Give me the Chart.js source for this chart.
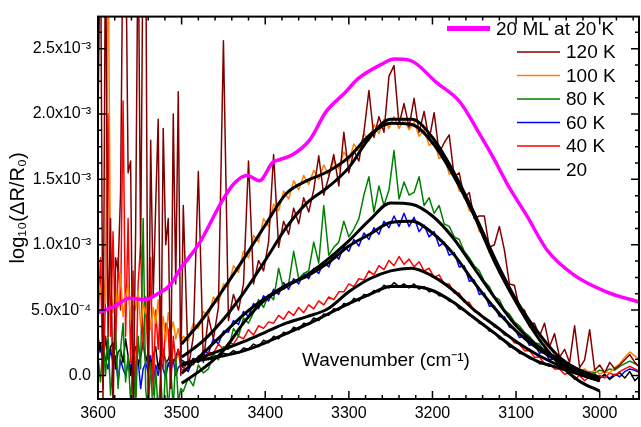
<!DOCTYPE html>
<html>
<head>
<meta charset="utf-8">
<script src="https://cdn.jsdelivr.net/npm/chart.js@4.4.0/dist/chart.umd.min.js"></script>
<style>
  html, body { margin: 0; padding: 0; background: #fff; }
</style>
</head>
<body>
<canvas id="chart" width="641" height="427"></canvas>
<script>
// all spectra values are in units of 1e-3
const unit = 1e-3;

// sampling of the measured spectra: 3600 -> 3501 every 3 cm-1, then 3498 -> 2952 every 6 cm-1
const wn = [];
for (let w = 3600; w > 3500; w -= 3) wn.push(w);
for (let w = 3498; w >= 2952; w -= 6) wn.push(w);

const k120 = [
  1.96, 3.5, -0.2, 3.5, 0.3, 1.2, -0.3, 0.9, 0.8, 1.4, 3.5, 3.5,
  1.55, 1.64, -0.3, 1.1, 3.5, 0.9, 3.5, 3.5, -0.35, 1.80, 0.6, 1.3,
  1.96, -0.2, 1.89, 1.0, 1.2, -0.1, 2.0, 0.7, 2.17, 0.0,
  1.3, 0.05, 0.3, 1.56, 0.1, 0.45, 0.28, 0.52, 2.56, 0.42, 0.62, 0.50,
  0.70, 1.64, 0.70, 0.88, 0.80, 1.02, 1.69, 0.98, 1.18, 1.08, 1.28, 1.16,
  1.36, 1.25, 1.42, 1.68, 1.38, 1.52, 1.69, 1.45, 1.86, 1.55, 1.72, 1.64,
  1.86, 2.18, 1.82, 1.98, 1.86, 2.29, 2.37, 1.92, 2.08, 1.90, 2.12, 1.86,
  2.02, 1.80, 2.01, 1.70, 1.78, 1.84, 1.52, 1.55, 1.36, 1.40, 1.20, 1.22,
  1.22, 0.98, 1.00, 1.14, 0.96, 0.70, 0.69, 0.51, 0.50, 0.40, 0.40, 0.30,
  0.40, 0.22, 0.32, 0.14, 0.20, 0.10, 0.38, 0.06, 0.12, 0.35, 0.04, 0.08,
  0.02, 0.10, 0.05, 0.08, 0.12, 0.16, 0.10, 0.06
];
const k100 = [
  0.75, 0.62, 0.80, 0.55, 3.5, 0.70, 0.48, 0.66, 0.52, 0.78, 0.45, 0.60,
  0.70, 0.42, 0.58, 0.50, 0.65, 0.38, 0.55, 0.47, 0.60, 0.35, 0.52, 0.40,
  0.58, 0.30, 0.45, 0.26, 0.48, 0.33, 0.41, 0.28, 0.36, 0.25,
  0.30, 0.27, 0.40, 0.36, 0.49, 0.45, 0.60, 0.55, 0.70, 0.68, 0.84, 0.79,
  0.95, 0.90, 1.07, 1.02, 1.20, 1.14, 1.31, 1.26, 1.41, 1.35, 1.49, 1.42,
  1.53, 1.46, 1.57, 1.50, 1.61, 1.53, 1.65, 1.58, 1.71, 1.64, 1.77, 1.71,
  1.85, 1.79, 1.92, 1.85, 1.96, 1.89, 1.98, 1.89, 1.96, 1.88, 1.94, 1.83,
  1.88, 1.76, 1.79, 1.66, 1.68, 1.54, 1.55, 1.41, 1.40, 1.26, 1.25, 1.10,
  1.08, 0.94, 0.90, 0.78, 0.75, 0.64, 0.60, 0.50, 0.47, 0.37, 0.35, 0.26,
  0.24, 0.17, 0.14, 0.10, 0.07, 0.05, 0.06, 0.03, 0.05, 0.02, 0.04, 0.01,
  0.03, 0.02, 0.06, 0.09, 0.14, 0.18, 0.15, 0.12
];
const k80 = [
  0.15, -0.05, 0.25, 0.0, 0.30, -0.15, 0.10, 0.35, -0.10, 0.20, 0.40, -0.05,
  0.15, -0.20, 0.10, -0.25, 0.30, 0.05, 1.20, -0.10, -0.30, 0.10, -0.35, 0.05,
  -0.28, 0.0, -0.35, 0.12, -0.30, 0.05, -0.25, 0.15, -0.20, -0.10,
  -0.12, -0.02, -0.08, 0.08, 0.02, 0.05, 0.16, 0.12, 0.22, 0.20, 0.36, 0.30,
  0.44, 0.40, 0.48, 0.58, 0.52, 0.62, 0.58, 0.82, 0.66, 0.70, 0.95, 0.74,
  0.78, 0.80, 1.02, 0.86, 1.30, 0.92, 0.98, 1.02, 1.18, 1.06, 1.12, 1.20,
  1.38, 1.52, 1.25, 1.45, 1.30, 1.42, 1.72, 1.35, 1.48, 1.38, 1.40, 1.52,
  1.30, 1.36, 1.24, 1.30, 1.16, 1.14, 1.06, 1.04, 0.95, 0.90, 0.84, 0.80,
  0.72, 0.68, 0.60, 0.58, 0.50, 0.47, 0.41, 0.38, 0.33, 0.30, 0.25, 0.24,
  0.18, 0.18, 0.13, 0.12, 0.07, 0.08, 0.04, 0.05, 0.01, 0.03, 0.02, 0.04,
  0.03, 0.05, 0.04, 0.07, 0.09, 0.11, 0.09, 0.07
];
const k60 = [
  0.30, 0.18, 0.25, 0.12, 0.05, 0.20, 0.10, 0.15, -0.05, 0.12, 0.05, 0.0,
  0.10, 0.08, -0.08, 0.06, 0.12, -0.10, 0.05, 0.10, 0.02, 0.15, -0.05, 0.08,
  0.0, 0.12, 0.05, -0.02, 0.10, 0.03, 0.12, 0.0, 0.06, 0.08,
  0.06, 0.03, 0.13, 0.10, 0.19, 0.17, 0.28, 0.24, 0.34, 0.33, 0.42, 0.39,
  0.49, 0.45, 0.55, 0.51, 0.61, 0.57, 0.66, 0.62, 0.71, 0.66, 0.74, 0.70,
  0.78, 0.74, 0.82, 0.78, 0.87, 0.83, 0.93, 0.89, 0.99, 0.95, 1.04, 0.99,
  1.09, 1.04, 1.13, 1.08, 1.18, 1.13, 1.22, 1.14, 1.24, 1.14, 1.21, 1.10,
  1.15, 1.06, 1.10, 0.99, 1.02, 0.92, 0.94, 0.83, 0.84, 0.72, 0.73, 0.62,
  0.63, 0.53, 0.53, 0.45, 0.45, 0.37, 0.36, 0.29, 0.30, 0.23, 0.24, 0.17,
  0.18, 0.12, 0.13, 0.08, 0.09, 0.04, 0.05, 0.01, 0.03, -0.01, 0.01, -0.02,
  0.0, -0.02, 0.01, -0.01, 0.03, 0.05, 0.04, 0.02
];
const k40 = [
  0.4, 0.9, -0.1, 0.6, 2.0, 0.3, 1.1, 0.2, 0.9, 0.5, 2.1, 0.3,
  1.2, 0.1, 0.8, -0.2, 0.7, 1.0, 0.2, 0.6, 0.1, 0.9, -0.15, 0.5,
  0.2, 0.6, 0.05, 0.4, 0.35, -0.1, 0.3, 0.1, 0.2, 0.05,
  0.04, 0.12, 0.08, 0.15, 0.12, 0.18, 0.17, 0.24, 0.20, 0.25, 0.24, 0.30,
  0.28, 0.35, 0.31, 0.38, 0.36, 0.41, 0.40, 0.46, 0.43, 0.49, 0.46, 0.52,
  0.48, 0.54, 0.51, 0.57, 0.54, 0.60, 0.58, 0.64, 0.64, 0.70, 0.68, 0.74,
  0.73, 0.80, 0.77, 0.84, 0.81, 0.88, 0.84, 0.91, 0.85, 0.89, 0.83, 0.87,
  0.80, 0.82, 0.75, 0.77, 0.70, 0.70, 0.63, 0.63, 0.56, 0.56, 0.49, 0.48,
  0.43, 0.42, 0.37, 0.36, 0.31, 0.30, 0.25, 0.24, 0.19, 0.19, 0.14, 0.14,
  0.09, 0.09, 0.05, 0.05, 0.01, 0.02, -0.03, 0.0, -0.04, -0.01, -0.03, 0.0,
  -0.02, 0.02, 0.0, 0.03, 0.05, 0.07, 0.05, 0.03
];
const k20 = [
  0.15, 0.25, 0.08, 0.30, 0.12, 0.22, 0.25, 0.05, 0.18, 0.20, 0.10, 0.28,
  0.15, 0.0, 0.18, 0.22, 0.08, 0.14, 0.26, 0.10, 0.18, 0.08, 0.15, 0.22,
  0.05, 0.15, 0.20, 0.10, 0.12, 0.18, 0.10, 0.14, 0.20, 0.12,
  0.11, 0.08, 0.13, 0.10, 0.15, 0.12, 0.16, 0.14, 0.17, 0.16, 0.19, 0.17,
  0.21, 0.20, 0.24, 0.22, 0.27, 0.25, 0.30, 0.28, 0.33, 0.32, 0.37, 0.35,
  0.40, 0.39, 0.44, 0.42, 0.47, 0.46, 0.51, 0.50, 0.55, 0.54, 0.59, 0.57,
  0.62, 0.61, 0.65, 0.64, 0.69, 0.67, 0.71, 0.68, 0.70, 0.67, 0.70, 0.66,
  0.68, 0.64, 0.65, 0.61, 0.61, 0.57, 0.56, 0.51, 0.50, 0.46, 0.45, 0.40,
  0.39, 0.34, 0.33, 0.28, 0.27, 0.22, 0.21, 0.17, 0.16, 0.13, 0.12, 0.09,
  0.09, 0.07, 0.07, 0.05, 0.05, 0.03, 0.03, 0.01, 0.02, -0.01, 0.01, -0.02,
  0.01, -0.03, 0.0, 0.02, -0.02, 0.03, -0.04, 0.0
];

// fitted curves, 3500 -> 3000 cm-1 every 25 cm-1
const fitWn = [3500, 3475, 3450, 3425, 3400, 3375, 3350, 3325, 3300, 3275, 3250,
               3225, 3200, 3175, 3150, 3125, 3100, 3075, 3050, 3025, 3000];
const fit120 = [0.14, 0.26, 0.43, 0.64, 0.88, 1.13, 1.32, 1.44, 1.59, 1.82, 1.96, 1.96, 1.82, 1.56, 1.24, 0.89, 0.58, 0.34, 0.15, 0.04, -0.04];
const fit100 = [0.24, 0.43, 0.66, 0.90, 1.15, 1.39, 1.49, 1.56, 1.67, 1.84, 1.93, 1.92, 1.78, 1.53, 1.22, 0.86, 0.56, 0.30, 0.10, -0.04, -0.12];
const fit80  = [-0.06, 0.05, 0.19, 0.41, 0.58, 0.68, 0.77, 0.89, 1.03, 1.19, 1.32, 1.31, 1.22, 1.05, 0.82, 0.59, 0.38, 0.23, 0.13, 0.045, -0.015];
const fit60  = [0.015, 0.165, 0.32, 0.47, 0.59, 0.69, 0.76, 0.86, 0.99, 1.08, 1.17, 1.18, 1.09, 0.93, 0.71, 0.51, 0.34, 0.21, 0.11, 0.02, -0.02];
const fit40  = [0.075, 0.14, 0.20, 0.26, 0.33, 0.40, 0.45, 0.51, 0.64, 0.74, 0.80, 0.82, 0.76, 0.65, 0.50, 0.38, 0.26, 0.16, 0.08, 0.01, -0.04];
const fit20  = [0.09, 0.12, 0.15, 0.19, 0.25, 0.32, 0.39, 0.47, 0.55, 0.62, 0.68, 0.68, 0.65, 0.56, 0.44, 0.32, 0.20, 0.11, 0.06, 0.01, -0.04];

// 20 ML at 20 K reference film
const mlWn  = [3600, 3580, 3562, 3544, 3530, 3514, 3502, 3478, 3452, 3437, 3422, 3407, 3391, 3383, 3367, 3347,
               3327, 3305, 3289, 3261, 3246, 3227, 3195, 3167, 3143, 3125, 3111, 3087, 3063, 3031, 2992, 2952];
const mlVal = [0.48, 0.53, 0.59, 0.58, 0.62, 0.69, 0.81, 1.02, 1.33, 1.47, 1.53, 1.49, 1.63, 1.65, 1.69, 1.80,
               2.02, 2.16, 2.27, 2.38, 2.42, 2.41, 2.24, 2.09, 1.84, 1.64, 1.47, 1.22, 0.96, 0.77, 0.64, 0.56];

const xTicks = [3600, 3500, 3400, 3300, 3200, 3100, 3000];

const font = "'Liberation Sans', Arial, sans-serif";
Chart.defaults.font.family = font;
Chart.defaults.color = '#000';

function pts(xs, ys) {
  return ys.map((v, i) => ({ x: xs[i], y: v * unit }));
}

function spectrum(label, vals, color, order) {
  return { label, data: pts(wn, vals), borderColor: color, borderWidth: 1.5, order, inLegend: true };
}
function fit(vals) {
  return { label: 'fit', data: pts(fitWn, vals), borderColor: '#000', borderWidth: 3,
           cubicInterpolationMode: 'monotone', order: 1, inLegend: false };
}

const supMap = { '-': '\u207B', '0': '\u2070', '1': '\u00B9', '2': '\u00B2', '3': '\u00B3', '4': '\u2074',
                 '5': '\u2075', '6': '\u2076', '7': '\u2077', '8': '\u2078', '9': '\u2079' };
function sciLabel(v) {
  if (Math.abs(v) < 1e-12) return '0.0';
  const e = Math.floor(Math.log10(Math.abs(v)) + 1e-9);
  const m = v / Math.pow(10, e);
  return m.toFixed(1) + 'x10' + String(e).split('').map(c => supMap[c]).join('');
}

// closed frame with inward ticks on all four sides
const frameTicks = {
  id: 'frameTicks',
  afterDraw(chart) {
    const { ctx, chartArea: a, scales: { x, y } } = chart;
    ctx.save();
    ctx.strokeStyle = '#000';
    ctx.lineWidth = 1.5;
    ctx.beginPath();
    for (let w = 3600; w > 2940; w -= 20) {
      const px = x.getPixelForValue(w);
      if (px > a.right - 1) continue;
      const len = w % 100 === 0 ? 8 : 4;
      ctx.moveTo(px, a.bottom); ctx.lineTo(px, a.bottom - len);
      ctx.moveTo(px, a.top); ctx.lineTo(px, a.top + len);
    }
    for (let k = -1; k <= 22; k++) {
      const v = k * 0.000125;
      const py = y.getPixelForValue(v);
      if (py < a.top + 1 || py > a.bottom - 1) continue;
      const len = k % 4 === 0 ? 8 : 4;
      ctx.moveTo(a.left, py); ctx.lineTo(a.left + len, py);
      ctx.moveTo(a.right, py); ctx.lineTo(a.right - len, py);
    }
    ctx.stroke();
    ctx.lineWidth = 2;
    ctx.strokeRect(a.left, a.top, a.right - a.left, a.bottom - a.top);
    ctx.restore();
  }
};

// axis title placed inside the plot, and the legend at top right
const innerText = {
  id: 'innerText',
  afterDraw(chart) {
    const { ctx, chartArea: a } = chart;
    ctx.save();
    ctx.fillStyle = '#000';
    ctx.font = '19px ' + font;
    ctx.textBaseline = 'middle';
    ctx.textAlign = 'center';
    ctx.fillText('Wavenumber (cm\u207B\u00B9)', a.left + 288, a.bottom - 38);

    ctx.textAlign = 'left';
    const items = chart.data.datasets.filter(d => d.inLegend);
    items.forEach((d, i) => {
      const yy = a.top + 12 + i * 23.5;
      const x0 = i === 0 ? a.right - 192 : a.right - 122;
      const x1 = i === 0 ? a.right - 149 : a.right - 79;
      ctx.strokeStyle = d.borderColor;
      ctx.lineWidth = i === 0 ? 5 : 1.5;
      ctx.beginPath(); ctx.moveTo(x0, yy); ctx.lineTo(x1, yy); ctx.stroke();
      ctx.fillText(d.label, x1 + 6, yy + 1);
    });
    ctx.restore();
  }
};

new Chart(document.getElementById('chart'), {
  type: 'line',
  data: {
    datasets: [
      { label: '20 ML at 20 K', data: pts(mlWn, mlVal), borderColor: '#ff00ff', borderWidth: 3.5,
        cubicInterpolationMode: 'monotone', order: 2, inLegend: true },
      spectrum('120 K', k120, '#800000', 3),
      spectrum('100 K', k100, '#ff8000', 4),
      spectrum('80 K', k80, '#008000', 5),
      spectrum('60 K', k60, '#0000ff', 8),
      spectrum('40 K', k40, '#ff0000', 6),
      spectrum('20', k20, '#000000', 7),
      fit(fit120), fit(fit100), fit(fit80), fit(fit60), fit(fit40), fit(fit20)
    ]
  },
  options: {
    responsive: false,
    animation: false,
    layout: { padding: { top: 10, right: 2, left: 0, bottom: 0 } },
    elements: { point: { radius: 0 }, line: { borderJoinStyle: 'round' } },
    plugins: { legend: { display: false }, tooltip: { enabled: false } },
    scales: {
      x: {
        type: 'linear', reverse: true, min: 2953, max: 3600,
        grid: { display: false, drawTicks: false }, border: { display: false },
        afterBuildTicks(s) { s.ticks = xTicks.map(v => ({ value: v })); },
        ticks: { padding: 5, autoSkip: false, maxRotation: 0, font: { size: 16 }, callback: v => String(v) },
        afterFit(s) { s.height = 28; }
      },
      y: {
        min: -0.00018, max: 0.002745,
        grid: { display: false, drawTicks: false }, border: { display: false },
        ticks: { stepSize: 0.0005, includeBounds: false, padding: 7, font: { size: 16 }, callback: v => sciLabel(v) },
        title: { display: true, text: 'log\u2081\u2080(\u0394R/R\u2080)', font: { size: 20 }, padding: { top: 6, bottom: 0 } },
        afterFit(s) { s.width = 98; }
      }
    }
  },
  plugins: [frameTicks, innerText]
});
</script>
</body>
</html>
